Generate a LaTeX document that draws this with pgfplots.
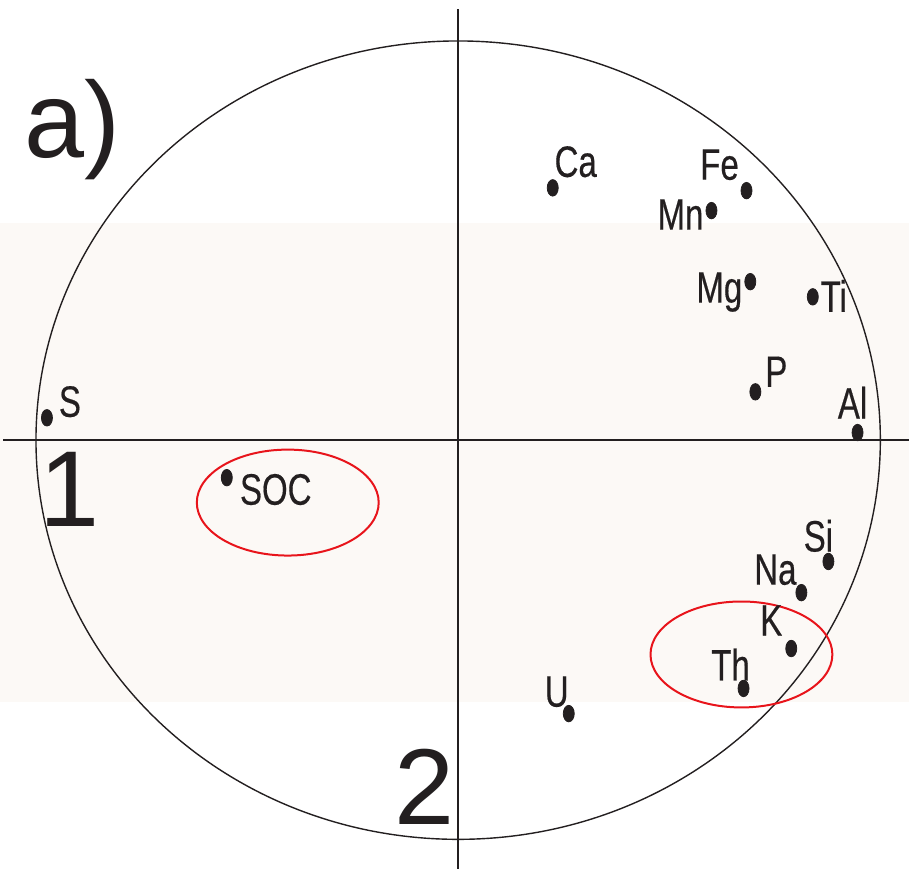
\documentclass[border=0pt]{standalone}
\usepackage{pgfplots}
\pgfplotsset{compat=1.18}
\usepackage{pgfplotstable}
\usepackage{fontspec}
\setmainfont{Liberation Sans}
\newfontfamily\narrowfont[FakeStretch=0.75,FakeBold=0.4]{Liberation Sans}
\definecolor{band}{RGB}{252,249,246}
\definecolor{ink}{RGB}{35,31,32}
\definecolor{ring}{RGB}{232,20,27}

% loadings on the first two components; dx/dy = label offset in pt
\pgfplotstableread{
x       y       lab  dx     dy
0.224   0.632   Ca   11.5   5.5
0.683   0.625   Fe   -13.5  5.5
0.600   0.575   Mn   -15.5  -9.5
0.692   0.397   Mg   -15.5  -10.5
0.840   0.359   Ti   10.5   -7.5
0.704   0.121   P    10.5   2.5
0.946   0.019   Al   -2.5   7
-0.974  0.056   S    11.5   0.5
-0.548  -0.094  SOC  24.5   -13.5
0.877   -0.304  Si   -5     5
0.813   -0.382  Na   -13    4
0.789   -0.522  K    -10    6.5
0.676   -0.622  Th   -6.5   4
0.262   -0.685  U    -6     3.5
}\loadings

\begin{document}
\begin{tikzpicture}
\begin{axis}[
  scale only axis,
  width=455pt, height=435.5pt,
  xmin=-1.0852, xmax=1.0686,
  ymin=-1.0776, ymax=1.1026,
  hide axis,
  clip=false,
]
\path (rel axis cs:0,0) rectangle (rel axis cs:1,1);
\fill[band] (axis cs:-1.0852,0.5444) rectangle (axis cs:1.0686,-0.6571);
\draw[ink, line width=0.7pt] (axis cs:-1.078,0) -- (axis cs:1.0686,0);
\draw[ink, line width=0.7pt] (axis cs:0,1.080) -- (axis cs:0,-1.075);
\draw[ink, line width=0.7pt] (axis cs:0,0) ellipse [x radius=1, y radius=1];
\draw[ring, line width=1pt] (axis cs:-0.4036,-0.1564) ellipse [x radius=0.2154, y radius=0.1327];
\draw[ring, line width=1pt] (axis cs:0.6710,-0.5369) ellipse [x radius=0.2154, y radius=0.1327];

\addplot[
  only marks, mark=*, color=ink,
  mark size=2.75pt, mark options={yscale=1.5},
  nodes near coords, point meta=explicit symbolic,
  visualization depends on={\thisrow{dx}\as\dx},
  visualization depends on={\thisrow{dy}\as\dy},
  every node near coord/.append style={anchor=base, inner sep=0pt,
    xshift=\dx pt, yshift=\dy pt, text=ink,
    font=\narrowfont\fontsize{22}{24}\selectfont},
] table[x=x, y=y, meta=lab] {\loadings};

\node[anchor=base west, inner sep=0pt, text=ink, font=\fontsize{54}{60}\selectfont]
  at (axis cs:-1.0284,0.7071) {a)};
\node[anchor=base, inner sep=0pt, text=ink, font=\fontsize{54}{60}\selectfont]
  at (axis cs:-0.9195,-0.2165) {1};
\node[anchor=base, inner sep=0pt, text=ink, font=\fontsize{54}{60}\selectfont]
  at (axis cs:-0.0793,-0.9625) {2};
\end{axis}
\end{tikzpicture}
\end{document}
